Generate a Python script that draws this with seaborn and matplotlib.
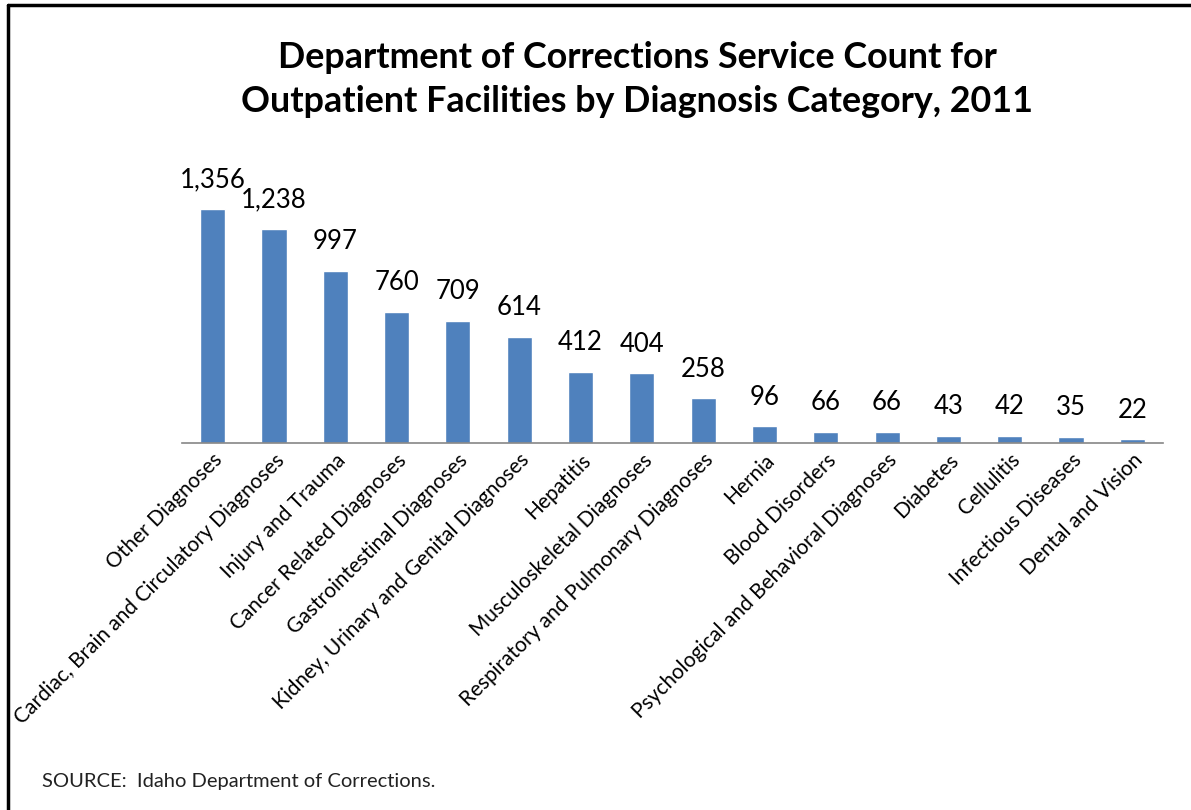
import matplotlib
matplotlib.use("Agg")
import matplotlib.pyplot as plt
from matplotlib.lines import Line2D
import seaborn as sns
import pandas as pd

categories = [
    "Other Diagnoses",
    "Cardiac, Brain and Circulatory Diagnoses",
    "Injury and Trauma",
    "Cancer Related Diagnoses",
    "Gastrointestinal Diagnoses",
    "Kidney, Urinary and Genital Diagnoses",
    "Hepatitis",
    "Musculoskeletal Diagnoses",
    "Respiratory and Pulmonary Diagnoses",
    "Hernia",
    "Blood Disorders",
    "Psychological and Behavioral Diagnoses",
    "Diabetes",
    "Cellulitis",
    "Infectious Diseases",
    "Dental and Vision",
]
service_counts = [1356, 1238, 997, 760, 709, 614, 412, 404, 258, 96, 66, 66, 43, 42, 35, 22]

title = "Department of Corrections Service Count for\nOutpatient Facilities by Diagnosis Category, 2011"
source_note = "SOURCE:  Idaho Department of Corrections."

df = pd.DataFrame({"category": categories, "count": service_counts})

sns.set_theme(style="white")
plt.rcParams["font.family"] = ["Lato", "DejaVu Sans"]

fig = plt.figure(figsize=(11.91, 8.10), dpi=100)
ax = fig.add_axes([0.1528, 0.4531, 0.8237, 0.3407])

sns.barplot(data=df, x="category", y="count", color="#4F81BD", saturation=1,
            width=0.41, ax=ax)

ax.set_ylim(0, 1600)
ax.set_xlim(-0.5, len(categories) - 0.5)
ax.set_xlabel("")
ax.set_ylabel("")
ax.set_yticks([])
for side in ("left", "right", "top"):
    ax.spines[side].set_visible(False)
ax.spines["bottom"].set_color("#868686")
ax.spines["bottom"].set_linewidth(1.2)
ax.tick_params(axis="x", length=0, pad=5)
ax.set_xticks(range(len(categories)))
ax.set_xticklabels(categories, rotation=45, ha="right", rotation_mode="anchor",
                   fontsize=15, color="#000000")

for container in ax.containers:
    ax.bar_label(container, labels=[f"{v:,}" for v in service_counts],
                 padding=12, fontsize=18.5, color="#000000")

fig.text(0.535, 0.902, title, ha="center", va="center", fontsize=25.8,
         fontweight="bold", linespacing=1.4, color="#000000")
fig.text(0.035, 0.035, source_note, ha="left", va="center", fontsize=14.5,
         color="#222222")

# frame lines along the top and left edges of the figure
fig.add_artist(Line2D([0.0066, 1.0], [0.9938, 0.9938], transform=fig.transFigure,
                      color="black", linewidth=2.5))
fig.add_artist(Line2D([0.0066, 0.0066], [0.0, 0.9938], transform=fig.transFigure,
                      color="black", linewidth=2.5))

fig.savefig("out.png", dpi=100, facecolor="white")
